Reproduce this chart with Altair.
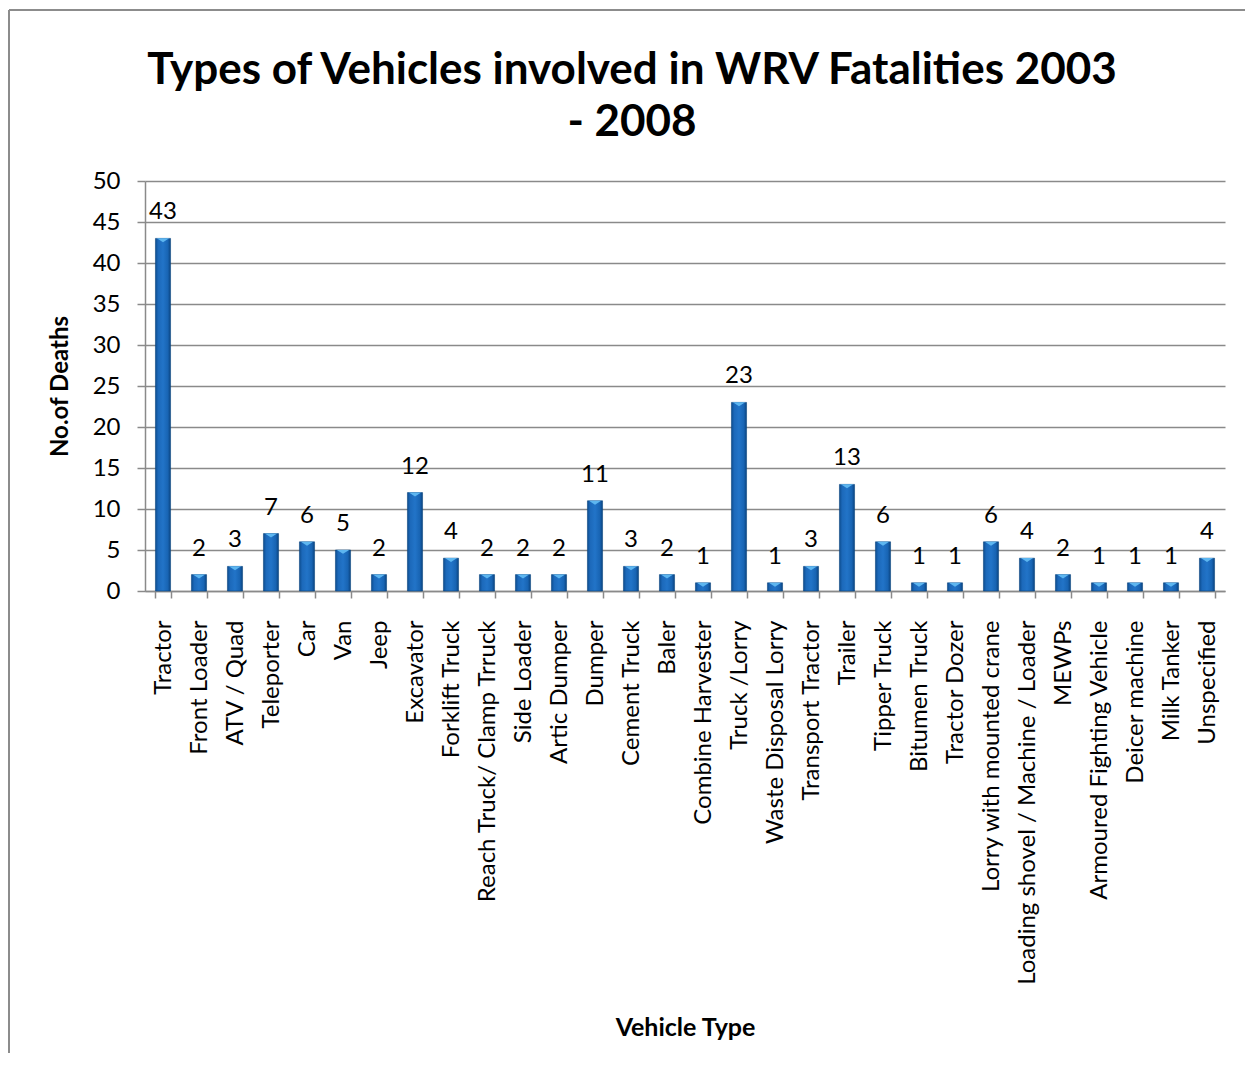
import altair as alt
import pandas as pd

categories = [
    "Tractor", "Front Loader", "ATV / Quad", "Teleporter", "Car", "Van", "Jeep",
    "Excavator", "Forklift Truck", "Reach Truck/ Clamp Trruck", "Side Loader",
    "Artic Dumper", "Dumper", "Cement Truck", "Baler", "Combine Harvester",
    "Truck /Lorry", "Waste Disposal  Lorry", "Transport Tractor", "Trailer",
    "Tipper Truck", "Bitumen Truck", "Tractor Dozer", "Lorry with mounted crane",
    "Loading shovel / Machine / Loader", "MEWPs", "Armoured Fighting Vehicle",
    "Deicer machine", "Milk Tanker", "Unspecified",
]
deaths = [43, 2, 3, 7, 6, 5, 2, 12, 4, 2, 2, 2, 11, 3, 2, 1, 23, 1, 3, 13,
          6, 1, 1, 6, 4, 2, 1, 1, 1, 4]
y_ticks = [0, 5, 10, 15, 20, 25, 30, 35, 40, 45, 50]

df = pd.DataFrame({"Vehicle Type": categories, "Deaths": deaths})

FONT = "Lato"
GRID = "#8a8a8a"
W, H = 1080, 410

x_enc = alt.X(
    "Vehicle Type:N",
    sort=categories,
    scale=alt.Scale(paddingInner=0.58, paddingOuter=0.29),
    axis=alt.Axis(
        title="Vehicle Type",
        labelAngle=270,
        labelFontSize=24,
        labelPadding=22,
        labelLimit=500,
        tickSize=7,
        tickBand="extent",
        tickColor=GRID,
        domainColor=GRID,
        domainWidth=1.5,
        tickWidth=1.5,
        titleFontSize=25,
        titleFontWeight="bold",
        titleX=W / 2,
        titleY=436,
        titleBaseline="middle",
        grid=False,
    ),
)
y_enc = alt.Y(
    "Deaths:Q",
    scale=alt.Scale(domain=[0, 50], nice=False),
    axis=alt.Axis(
        title="No.of Deaths",
        values=y_ticks,
        labelFontSize=24,
        labelPadding=17,
        tickSize=8,
        tickColor=GRID,
        domainColor=GRID,
        domainWidth=1.5,
        tickWidth=1.5,
        gridColor=GRID,
        gridWidth=1.5,
        titleFontSize=24,
        titleFontWeight="bold",
        titleX=-85,
        titleY=H / 2,
        titleBaseline="middle",
        titleAngle=270,
    ),
)

bar_gradient = alt.Gradient(
    gradient="linear",
    x1=0, x2=1, y1=0, y2=0,
    stops=[
        alt.GradientStop(offset=0, color="#0d4c8e"),
        alt.GradientStop(offset=0.18, color="#1c69ba"),
        alt.GradientStop(offset=0.5, color="#2274c8"),
        alt.GradientStop(offset=0.82, color="#1864b3"),
        alt.GradientStop(offset=1, color="#0a437f"),
    ],
)

base = alt.Chart(df)

bars = base.mark_bar(color=bar_gradient, stroke="#0b4682", strokeWidth=0.6).encode(
    x=x_enc, y=y_enc
)

bevel = base.mark_point(
    shape="M -1 -1 L 1 -1 L 0 -0.35 Z",
    filled=True,
    color="#5db6f0",
    size=150,
    opacity=1,
    yOffset=6,
).encode(x=alt.X("Vehicle Type:N", sort=categories), y="Deaths:Q")

labels = base.mark_text(
    fontSize=24, font=FONT, color="black", baseline="alphabetic", dy=-19
).encode(x=alt.X("Vehicle Type:N", sort=categories), y="Deaths:Q", text="Deaths:Q")

# outer chart frame (top and left edges visible in the reference)
frame_top = alt.Chart(df).mark_rule(color="#8c8c8c", strokeWidth=2).encode(
    x=alt.value(-136), x2=alt.value(W + 30), y=alt.value(-171)
)
frame_left = alt.Chart(df).mark_rule(color="#8c8c8c", strokeWidth=2).encode(
    x=alt.value(-136), y=alt.value(-171), y2=alt.value(H + 470)
)

chart = (
    alt.layer(bars, bevel, labels, frame_top, frame_left)
    .properties(
        width=W,
        height=H,
        title=alt.TitleParams(
            text=["Types of Vehicles involved in WRV Fatalities 2003", "- 2008"],
            fontSize=44,
            font=FONT,
            fontWeight="bold",
            color="black",
            anchor="middle",
            dx=-53,
            offset=0,
            dy=136,
            lineHeight=52,
        ),
        autosize=alt.AutoSizeParams(type="none"),
        padding={"left": 137, "top": 173, "right": 20, "bottom": 462},
    )
    .configure(font=FONT)
    .configure_view(stroke=None)
    .configure_axis(labelFont=FONT, titleFont=FONT, labelColor="black", titleColor="black")
)

chart.save("out.html", embed_options={"renderer": "svg", "actions": False})
